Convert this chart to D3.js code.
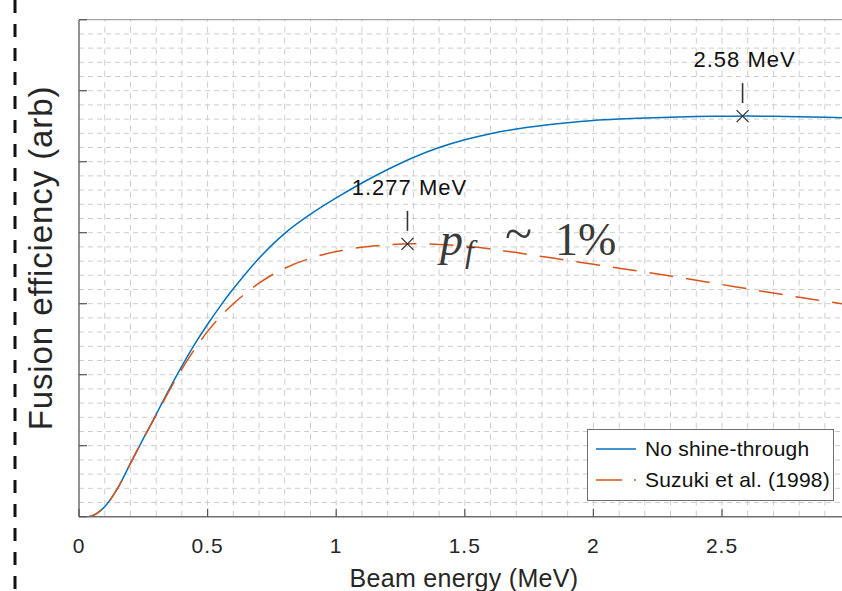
<!doctype html>
<html>
<head>
<script src="https://cdnjs.cloudflare.com/ajax/libs/d3/7.8.5/d3.min.js"></script>
<style>
body { margin: 0; background: #fff; }
svg { display: block; font-family: Arial, "Liberation Sans", sans-serif; }
</style>
</head>
<body>
<svg id="chart" width="842" height="591"></svg>
<script>
// beam energy (MeV) and fusion efficiency (arb)
var energy = [0, 0.05, 0.1, 0.15, 0.2, 0.25, 0.3, 0.35, 0.4, 0.45, 0.5, 0.55, 0.6, 0.7, 0.8, 0.9, 1.0,
  1.1, 1.2, 1.3, 1.4, 1.5, 1.6, 1.7, 1.8, 1.9, 2.0, 2.1, 2.2, 2.3, 2.4, 2.5, 2.6, 2.7, 2.8, 2.9, 3.0];
var noShine = [0, 0.01, 0.14, 0.40, 0.75, 1.10, 1.44, 1.79, 2.12, 2.43, 2.71, 2.97, 3.21, 3.64, 3.99, 4.26, 4.49,
  4.70, 4.89, 5.06, 5.20, 5.31, 5.395, 5.46, 5.51, 5.55, 5.58, 5.60, 5.615, 5.627, 5.636, 5.641, 5.642, 5.639, 5.633, 5.625, 5.615];
var suzuki = [0, 0.01, 0.14, 0.40, 0.75, 1.10, 1.43, 1.77, 2.08, 2.36, 2.61, 2.82, 3.00, 3.29, 3.50, 3.64, 3.735,
  3.795, 3.83, 3.843, 3.835, 3.81, 3.77, 3.72, 3.665, 3.61, 3.555, 3.50, 3.445, 3.39, 3.33, 3.27, 3.21, 3.15, 3.09, 3.035, 2.98];
var seriesNames = ["No shine-through", "Suzuki et al. (1998)"];
var peakE = [1.277, 2.58];
var peakV = [3.843, 5.642];
var peakLabels = ["1.277 MeV", "2.58 MeV"];
var xTicks = [0, 0.5, 1, 1.5, 2, 2.5, 3];
var xTickLabels = ["0", "0.5", "1", "1.5", "2", "2.5"];

var svg = d3.select("#chart");
var x = d3.scaleLinear().domain([0, 3]).range([79, 850.6]);
var y = d3.scaleLinear().domain([0, 7]).range([516.7, 19.7]);
var blue = "#0072BD", red = "#D95319";

// dashed separator on the far left
svg.append("line").attr("x1", 15).attr("x2", 15).attr("y1", 0).attr("y2", 591)
  .attr("stroke", "#111").attr("stroke-width", 3).attr("stroke-dasharray", "13,11");

svg.append("defs").append("clipPath").attr("id", "clip")
  .append("rect").attr("x", 79).attr("y", 19.7).attr("width", 771.6).attr("height", 497);

var plot = svg.append("g").attr("clip-path", "url(#clip)");

// grid
plot.append("g").selectAll("line").data(d3.range(1, 30).map(d => d / 10)).enter().append("line")
  .attr("x1", d => x(d)).attr("x2", d => x(d)).attr("y1", y(0)).attr("y2", y(7))
  .attr("stroke", "#cdcdcd").attr("stroke-width", 1).attr("stroke-dasharray", "6,5");
plot.append("g").selectAll("line").data(d3.range(1, 35).map(d => d / 5)).enter().append("line")
  .attr("x1", x(0)).attr("x2", x(3)).attr("y1", d => y(d)).attr("y2", d => y(d))
  .attr("stroke", "#cdcdcd").attr("stroke-width", 1).attr("stroke-dasharray", "5,4");

// axes frame
svg.append("line").attr("x1", x(0)).attr("x2", 842).attr("y1", y(0)).attr("y2", y(0)).attr("stroke", "#6e6e6e").attr("stroke-width", 1.5);
svg.append("line").attr("x1", x(0)).attr("x2", 842).attr("y1", y(7)).attr("y2", y(7)).attr("stroke", "#8a8a8a").attr("stroke-width", 1);
svg.append("line").attr("x1", x(0)).attr("x2", x(0)).attr("y1", y(0)).attr("y2", y(7)).attr("stroke", "#6e6e6e").attr("stroke-width", 1.5);

// ticks (inward)
svg.append("g").selectAll("line").data(xTicks).enter().append("line")
  .attr("x1", d => x(d)).attr("x2", d => x(d)).attr("y1", y(0)).attr("y2", y(0) - 8)
  .attr("stroke", "#555").attr("stroke-width", 1.2);
svg.append("g").selectAll("line").data(d3.range(0, 8)).enter().append("line")
  .attr("x1", x(0)).attr("x2", x(0) + 8).attr("y1", d => y(d)).attr("y2", d => y(d))
  .attr("stroke", "#555").attr("stroke-width", 1.2);

svg.append("g").selectAll("text").data(xTickLabels).enter().append("text")
  .attr("x", (d, i) => x(xTicks[i])).attr("y", 553).attr("text-anchor", "middle")
  .attr("font-size", 21).attr("letter-spacing", 1).attr("fill", "#262626")
  .text(d => d);

// axis labels
svg.append("text").attr("x", 464).attr("y", 587).attr("text-anchor", "middle")
  .attr("font-size", 25).attr("letter-spacing", 0.3).attr("fill", "#262626").text("Beam energy (MeV)");
svg.append("text").attr("transform", "translate(52,258) rotate(-90)").attr("text-anchor", "middle")
  .attr("font-size", 33).attr("letter-spacing", 0.9).attr("fill", "#262626").text("Fusion efficiency (arb)");

// curves
var line = d3.line().x(d => x(d[0])).y(d => y(d[1])).curve(d3.curveCatmullRom.alpha(0.5));
plot.append("path").datum(d3.zip(energy, noShine)).attr("d", line)
  .attr("fill", "none").attr("stroke", blue).attr("stroke-width", 1.5);
plot.append("path").datum(d3.zip(energy, suzuki)).attr("d", line)
  .attr("fill", "none").attr("stroke", red).attr("stroke-width", 1.5).attr("stroke-dasharray", "24,13");

// peak annotations
var peaks = svg.append("g").selectAll("g").data(peakE).enter().append("g")
  .attr("transform", (d, i) => "translate(" + x(d) + "," + y(peakV[i]) + ")");
peaks.append("path").attr("d", "M-6,-6L6,6M-6,6L6,-6").attr("stroke", "#333").attr("stroke-width", 1.3);
peaks.append("line").attr("x1", 0).attr("x2", 0).attr("y1", -33).attr("y2", -13).attr("stroke", "#333").attr("stroke-width", 1.6);
peaks.append("text").attr("x", 2).attr("y", -49).attr("text-anchor", "middle")
  .attr("font-size", 22).attr("letter-spacing", 1).attr("fill", "#111").text((d, i) => peakLabels[i]);

// p_f ~ 1% note
var note = svg.append("text").attr("y", 255)
  .attr("font-family", "'Cambria Math', 'Liberation Serif', 'DejaVu Serif', serif")
  .attr("font-size", 46).attr("fill", "#3a3a3a");
note.append("tspan").attr("x", 440).attr("font-style", "italic").text("p");
note.append("tspan").attr("x", 465).attr("font-style", "italic").attr("font-size", 32).attr("dy", 7).text("f");
note.append("tspan").attr("x", 505).attr("dy", -12).attr("font-size", 50).text("~");
note.append("tspan").attr("x", 555).attr("dy", 5).text("1%");

// legend
var lg = svg.append("g");
lg.append("rect").attr("x", 587.5).attr("y", 429.5).attr("width", 246).attr("height", 71)
  .attr("fill", "#fff").attr("stroke", "#6e6e6e").attr("stroke-width", 1);
lg.selectAll("line").data(seriesNames).enter().append("line")
  .attr("x1", 596).attr("x2", 636).attr("y1", (d, i) => 449 + i * 31).attr("y2", (d, i) => 449 + i * 31)
  .attr("stroke", (d, i) => i ? red : blue).attr("stroke-width", 1.5)
  .attr("stroke-dasharray", (d, i) => i ? "26,12" : null);
lg.selectAll("text").data(seriesNames).enter().append("text")
  .attr("x", 645).attr("y", (d, i) => 456 + i * 31)
  .attr("font-size", 21).attr("letter-spacing", 0.2).attr("fill", "#111").text(d => d);
</script>
</body>
</html>
